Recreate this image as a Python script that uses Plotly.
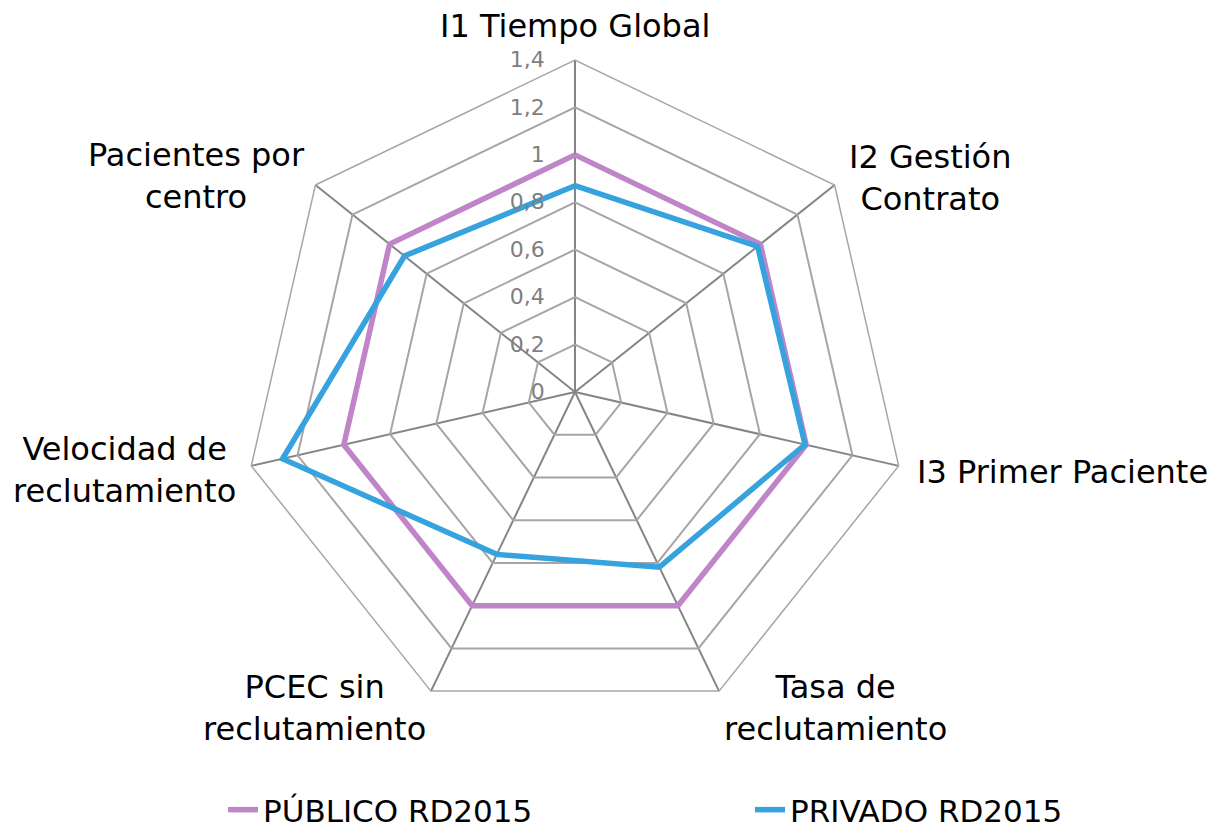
import plotly.graph_objects as go

categories = [
    "I1 Tiempo Global",
    "I2 Gestión<br>Contrato",
    "I3 Primer Paciente",
    "Tasa de<br>reclutamiento",
    "PCEC sin<br>reclutamiento",
    "Velocidad de<br>reclutamiento",
    "Pacientes por<br>centro",
]
publico = [1.0, 1.0, 1.0, 1.0, 1.0, 1.0, 1.0]
privado = [0.87, 0.985, 0.995, 0.82, 0.76, 1.265, 0.92]
series_names = ["PÚBLICO RD2015", "PRIVADO RD2015"]
tick_vals = [0, 0.2, 0.4, 0.6, 0.8, 1.0, 1.2, 1.4]

FONT = "Verdana, DejaVu Sans, sans-serif"
OFF = 8  # page body margin
W, H = 1226, 836
cx, cy, R = 575 - OFF, 392 - OFF, 332
mt, mb = cy - R, H - (cy + R)

fig = go.Figure()
for name, vals, color in [(series_names[0], publico, "#C085C8"),
                          (series_names[1], privado, "#36A2DE")]:
    fig.add_trace(go.Scatterpolar(
        r=vals + vals[:1],
        theta=categories + categories[:1],
        mode="lines",
        name=name,
        line=dict(color=color, width=5.5),
    ))


def px(sx):
    return (sx - OFF) / W


def py(sy):
    return ((H - mb) - (sy - OFF)) / (H - mt - mb)


# category label placement (screen px of label centre / anchor)
label_pos = [
    (575, 26, "center"),
    (930, 178, "center"),
    (915, 472, "left"),
    (835, 708, "center"),
    (314, 708, "center"),
    (125, 470, "center"),
    (196, 176, "center"),
]
annotations = []
for text, (sx, sy, anc) in zip(categories, label_pos):
    annotations.append(dict(
        text=text, xref="paper", yref="paper",
        x=px(sx), y=py(sy), xanchor=anc, yanchor="middle",
        align="center", showarrow=False,
        font=dict(family=FONT, size=32, color="black"),
    ))

fig.update_layout(
    width=W, height=H,
    paper_bgcolor="white",
    separators=", ",
    font=dict(family=FONT, size=32, color="black"),
    margin=dict(l=0, r=0, t=mt, b=mb, autoexpand=False),
    polar=dict(
        domain=dict(x=[(cx - R) / W, (cx + R) / W], y=[0, 1]),
        bgcolor="white",
        gridshape="linear",
        radialaxis=dict(
            range=[0, 1.4], tickvals=tick_vals,
            angle=90, side="counterclockwise", tickangle=90,
            showline=False, ticks="outside", ticklen=22,
            tickcolor="rgba(0,0,0,0)",
            gridcolor="#A6A6A6", gridwidth=1.5,
            tickfont=dict(family=FONT, size=22, color="#7F7F7F"),
        ),
        angularaxis=dict(
            direction="clockwise", rotation=90,
            gridcolor="#858585", gridwidth=1.5,
            showline=True, linecolor="#A6A6A6", linewidth=1.5,
            ticks="", showticklabels=False,
        ),
    ),
    annotations=annotations,
    showlegend=True,
    legend=dict(
        orientation="h", x=215 / W, xanchor="left",
        y=py(810), yanchor="middle",
        entrywidth=482, entrywidthmode="pixels",
        font=dict(family=FONT, size=31, color="black"),
    ),
)

fig.write_html("out.html")
